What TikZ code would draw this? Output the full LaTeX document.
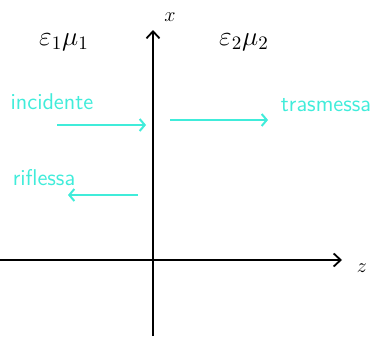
\documentclass[tikz,border=0pt]{standalone}
\usepackage{xcolor}
\definecolor{wavecyan}{RGB}{64,236,218}
\usetikzlibrary{arrows.meta,positioning}

\begin{document}
\begin{tikzpicture}[x=1pt, y=-1pt,
  every node/.style={font=\Large, inner sep=1pt},
  axis/.style={line width=2.2pt, black, -{Straight Barb[length=7pt, width=13pt, line width=1.8pt]}},
  wave/.style={line width=2.4pt, wavecyan, -{Straight Barb[length=5pt, width=12pt, line width=2pt]}},
  wavelabel/.style={font=\large\sffamily, text=wavecyan, scale=1.9},
  medium/.style={font=\Large, scale=1.9},
]
\useasboundingbox (0,0) rectangle (385,340);

% Axes
\coordinate (xbot) at (153,336);
\coordinate (xtop) at (153,30);
\coordinate (zleft) at (0,260);
\coordinate (zright) at (342,260);
\draw[axis] (xbot) -- (xtop);
\draw[axis] (zleft) -- (zright);
\node[scale=1.4] (xlab) at (170,17) {$x$};
\node[scale=1.4] (zlab) at (362,268) {$z$};

% Media
\node[medium] (med1) at (64,42) {$\varepsilon_1\mu_1$};
\node[medium] (med2) at (244,42) {$\varepsilon_2\mu_2$};

% Waves
\coordinate (inA) at (57,125);
\coordinate (inB) at (146,125);
\coordinate (trA) at (170,120);
\coordinate (trB) at (268,120);
\coordinate (reA) at (138,195);
\coordinate (reB) at (68,195);
\draw[wave] (inA) -- (inB);
\draw[wave] (trA) -- (trB);
\draw[wave] (reA) -- (reB);
\node[wavelabel] (inlab) at (52,102) {incidente};
\node[wavelabel] (trlab) at (326,105) {trasmessa};
\node[wavelabel] (relab) at (44,178) {riflessa};

\end{tikzpicture}
\end{document}
